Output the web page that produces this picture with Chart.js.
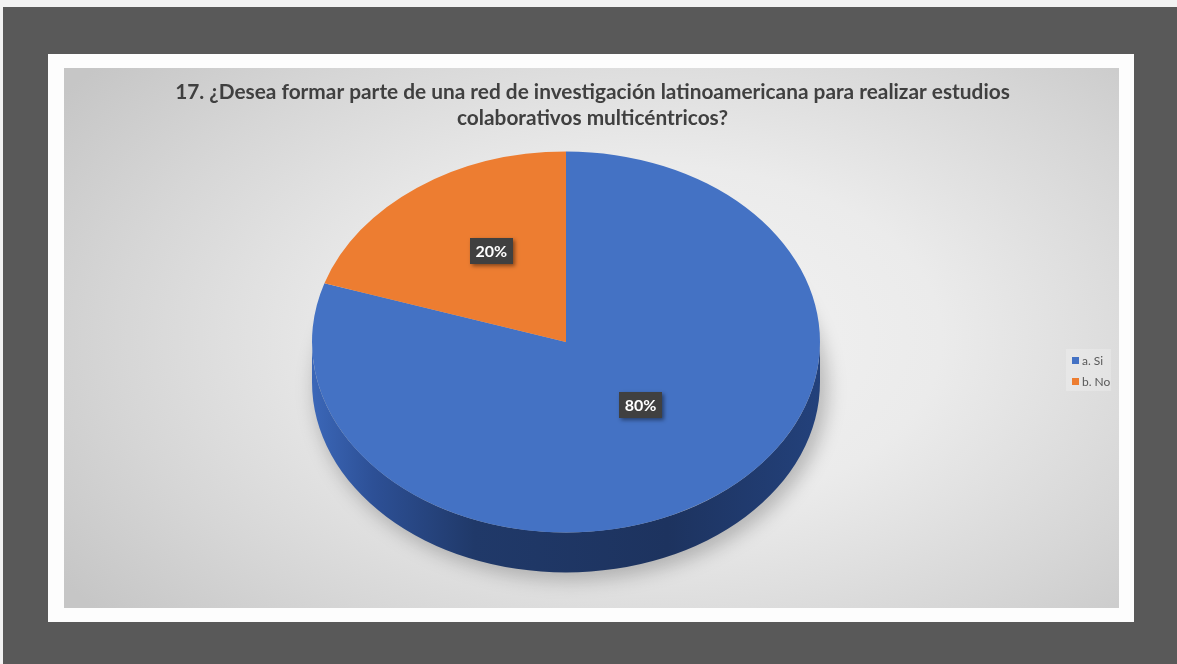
<!DOCTYPE html>
<html><head><meta charset="utf-8">
<script src="https://cdn.jsdelivr.net/npm/chart.js@4.4.1/dist/chart.umd.min.js"></script>
<style>
html,body{margin:0;padding:0;background:#f2f2f2;width:1177px;height:664px;overflow:hidden;position:relative;}
#dark{position:absolute;left:3px;top:7px;width:1174px;height:657px;background:#595959;}
#frame{position:absolute;left:48px;top:54px;width:1086px;height:568px;background:#fdfdfd;}
#area{position:absolute;left:64px;top:68px;width:1055px;height:540px;
  background:radial-gradient(ellipse 68% 80% at 56% 50%, #f3f3f3 0%, #ebebeb 40%, #d6d6d6 75%, #c6c6c6 100%);}
canvas{display:block;}
</style></head><body>
<div id="dark"></div><div id="frame"></div>
<div id="area"><canvas id="c" width="1055" height="540"></canvas></div>
<script>
const titleLines = [
  '17. ¿Desea formar parte de una red de investigación latinoamericana para realizar estudios',
  'colaborativos multicéntricos?'
];
const categories = ['a. Si', 'b. No'];
const values = [80, 20];
const sliceColors = ['#4472C4', '#ED7D31'];

const K = 0.75;          // vertical squash of the pie top face
const DEPTH = 40;        // 3D thickness in px
const LABEL_SHIFT = -14; // perspective correction for labels
const FONT = 'Lato, "Open Sans", sans-serif';

function sideGradient(ctx, x, r, i){
  const g = ctx.createLinearGradient(x - r, 0, x + r, 0);
  if (i === 0){
    g.addColorStop(0, '#3b67b8');
    g.addColorStop(0.12, '#2d5096');
    g.addColorStop(0.32, '#203969');
    g.addColorStop(0.7, '#1d335f');
    g.addColorStop(1, '#23417b');
  } else {
    g.addColorStop(0, '#b85d22');
    g.addColorStop(0.5, '#8a4418');
    g.addColorStop(1, '#a1501c');
  }
  return g;
}

const pie3d = {
  id: 'pie3d',
  beforeDatasetsDraw(chart){
    const ctx = chart.ctx;
    const arcs = chart.getDatasetMeta(0).data;
    const p = arcs[0].getProps(['x','y','outerRadius'], true);
    const x = p.x, y = p.y, r = p.outerRadius, ry = r * K;
    // soft shadow
    ctx.save();
    ctx.filter = 'blur(9px)';
    ctx.fillStyle = 'rgba(0,0,0,0.22)';
    ctx.beginPath();
    ctx.ellipse(x + 5, y + DEPTH + 6, r + 3, ry + 2, 0, 0, Math.PI * 2);
    ctx.fill();
    ctx.restore();
    // sides
    arcs.forEach((arc, i) => {
      const a = arc.getProps(['startAngle','endAngle'], true);
      for (const off of [-2*Math.PI, 0, 2*Math.PI]){
        const a1 = Math.max(a.startAngle + off, 0);
        const a2 = Math.min(a.endAngle + off, Math.PI);
        if (a2 > a1){
          ctx.beginPath();
          ctx.ellipse(x, y, r, ry, 0, a1, a2, false);
          ctx.ellipse(x, y + DEPTH, r, ry, 0, a2, a1, true);
          ctx.closePath();
          ctx.fillStyle = sideGradient(ctx, x, r, i);
          ctx.fill();
        }
      }
    });
    ctx.save();
    ctx.translate(x, y); ctx.scale(1, K); ctx.translate(-x, -y);
  },
  afterDatasetsDraw(chart){
    const ctx = chart.ctx;
    ctx.restore();
    const arcs = chart.getDatasetMeta(0).data;
    const cy = arcs[0].getProps(['y'], true).y;
    const total = values.reduce((s, v) => s + v, 0);
    ctx.save();
    ctx.font = 'bold 16px ' + FONT;
    ctx.textAlign = 'center';
    ctx.textBaseline = 'middle';
    arcs.forEach((arc, i) => {
      const tp = arc.tooltipPosition(true);
      const lx = tp.x, ly = cy + (tp.y - cy) * K + LABEL_SHIFT;
      const txt = Math.round(values[i] / total * 100) + '%';
      const w = 43, h = 26;
      ctx.save();
      ctx.shadowColor = 'rgba(0,0,0,0.45)';
      ctx.shadowBlur = 4; ctx.shadowOffsetX = 2; ctx.shadowOffsetY = 2;
      ctx.fillStyle = '#404040';
      ctx.fillRect(Math.round(lx - w/2), Math.round(ly - h/2), w, h);
      ctx.restore();
      ctx.fillStyle = '#ffffff';
      ctx.fillText(txt, lx, ly + 1);
    });
    ctx.restore();
  },
  afterDraw(chart){
    const ctx = chart.ctx;
    ctx.save();
    // title
    ctx.font = 'bold 18px ' + FONT;
    const w18 = ctx.measureText(titleLines[0]).width;
    const size = 18 * 835 / w18;
    ctx.font = 'bold ' + size.toFixed(2) + 'px ' + FONT;
    ctx.fillStyle = '#404040';
    ctx.textAlign = 'center';
    ctx.textBaseline = 'middle';
    const cx = chart.width / 2 + 1;
    ctx.fillText(titleLines[0], cx, 24);
    ctx.fillText(titleLines[1], cx, 50);
    // legend
    ctx.fillStyle = 'rgba(255,255,255,0.22)';
    ctx.fillRect(1002, 281, 45, 42);
    ctx.font = '12px ' + FONT;
    ctx.textAlign = 'left';
    categories.forEach((c, i) => {
      const yy = 292 + i * 21;
      ctx.fillStyle = sliceColors[i];
      ctx.fillRect(1008, yy - 3, 7, 7);
      ctx.fillStyle = '#595959';
      ctx.fillText(c, 1018, yy + 1);
    });
    ctx.restore();
  }
};

function build(){
  new Chart(document.getElementById('c'), {
    type: 'pie',
    data: {
      labels: categories,
      datasets: [{ data: values, backgroundColor: sliceColors, borderWidth: 0 }]
    },
    options: {
      responsive: false,
      animation: false,
      events: [],
      layout: { padding: { left: 248, right: 299, top: 20, bottom: 12 } },
      plugins: { legend: { display: false }, title: { display: false }, tooltip: { enabled: false } }
    },
    plugins: [pie3d]
  });
}
if (document.fonts && document.fonts.load){
  Promise.all([document.fonts.load('bold 18px Lato'), document.fonts.load('12px Lato')]).then(build, build);
} else build();
</script>
</body></html>
